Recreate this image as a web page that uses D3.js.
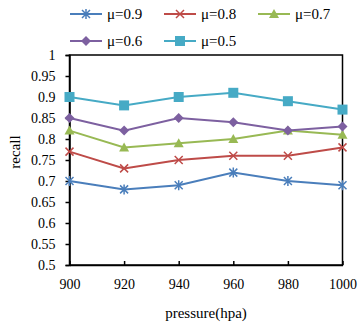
<!DOCTYPE html>
<html><head><meta charset="utf-8">
<script src="https://cdn.jsdelivr.net/npm/d3@7"></script>
<style>body{margin:0;background:#fff}svg{display:block}</style>
</head><body><div id="chart"></div>
<script>
const pressures = [900, 920, 940, 960, 980, 1000];
const seriesNames = ["μ=0.9", "μ=0.8", "μ=0.7", "μ=0.6", "μ=0.5"];
const mu09 = [0.70, 0.68, 0.69, 0.72, 0.70, 0.69];
const mu08 = [0.77, 0.73, 0.75, 0.76, 0.76, 0.78];
const mu07 = [0.82, 0.78, 0.79, 0.80, 0.82, 0.81];
const mu06 = [0.85, 0.82, 0.85, 0.84, 0.82, 0.83];
const mu05 = [0.90, 0.88, 0.90, 0.91, 0.89, 0.87];
const yTicks = [0.5, 0.55, 0.6, 0.65, 0.7, 0.75, 0.8, 0.85, 0.9, 0.95, 1];
const colors = ["#4a7ebb", "#be4b48", "#98b954", "#7d60a0", "#46aac5"];
const markers = ["star", "x", "triangle", "diamond", "square"];
const allSeries = [mu09, mu08, mu07, mu06, mu05];

const FONT = "'Liberation Serif', 'Times New Roman', Times, serif";
const W = 359, H = 324;
const svg = d3.select("#chart").append("svg").attr("width", W).attr("height", H)
  .attr("font-family", FONT);
const x = d3.scaleLinear().domain([900, 1000]).range([69.5, 342.5]);
const y = d3.scaleLinear().domain([0.5, 1]).range([265, 55]);

function drawMarker(g, type, color) {
  if (type === "star") {
    g.append("path").attr("d", "M-4,-4L4,4M-4,4L4,-4M0,-5L0,5").attr("stroke", color).attr("stroke-width", 1.5).attr("fill", "none");
  } else if (type === "x") {
    g.append("path").attr("d", "M-4,-4L4,4M-4,4L4,-4").attr("stroke", color).attr("stroke-width", 1.5).attr("fill", "none");
  } else if (type === "triangle") {
    g.append("path").attr("d", "M0,-5L5,4L-5,4Z").attr("fill", color);
  } else if (type === "diamond") {
    g.append("path").attr("d", "M0,-5L5,0L0,5L-5,0Z").attr("fill", color);
  } else {
    g.append("rect").attr("x", -5).attr("y", -5).attr("width", 10).attr("height", 10).attr("fill", color);
  }
}

// plot frame
svg.append("rect").attr("x", x(900)).attr("y", y(1)).attr("width", x(1000) - x(900)).attr("height", y(0.5) - y(1))
  .attr("fill", "none").attr("stroke", "#000").attr("stroke-width", 1.5);

// y axis
const yAxis = svg.append("g").attr("transform", `translate(${x(900)},0)`)
  .call(d3.axisLeft(y).tickValues(yTicks).tickSize(4).tickFormat(d => String(d)));
yAxis.attr("font-family", FONT);
yAxis.select(".domain").attr("stroke-width", 1.5);
yAxis.selectAll(".tick line").attr("stroke-width", 1.5);
yAxis.selectAll("text").attr("font-size", 14).attr("x", -14).attr("font-family", FONT).attr("fill", "#000");

// x axis (ticks inward)
const xAxis = svg.append("g").attr("transform", `translate(0,${y(0.5)})`)
  .call(d3.axisBottom(x).tickValues(pressures).tickSizeInner(-4).tickSizeOuter(0).tickFormat(d3.format("d")));
xAxis.attr("font-family", FONT);
xAxis.select(".domain").attr("stroke-width", 1.5);
xAxis.selectAll(".tick line").attr("stroke-width", 1.5);
xAxis.selectAll("text").attr("font-size", 14).attr("y", 14).attr("font-family", FONT).attr("fill", "#000");

// axis titles
svg.append("text").attr("x", x(950)).attr("y", 318).attr("text-anchor", "middle").attr("font-size", 15).text("pressure(hpa)");
svg.append("text").attr("transform", `translate(20,152) rotate(-90)`).attr("text-anchor", "middle").attr("font-size", 15).text("recall");

// series
const line = d3.line().x((d, i) => x(pressures[i])).y(d => y(d));
allSeries.forEach((vals, si) => {
  svg.append("path").datum(vals).attr("d", line).attr("fill", "none").attr("stroke", colors[si]).attr("stroke-width", 2);
  vals.forEach((v, i) => {
    const g = svg.append("g").attr("transform", `translate(${x(pressures[i])},${y(v)})`);
    drawMarker(g, markers[si], colors[si]);
  });
});

// legend
const legendPos = [[70, 14], [164, 14], [258, 14], [70, 41], [164, 41]];
seriesNames.forEach((name, si) => {
  const [lx, ly] = legendPos[si];
  svg.append("line").attr("x1", lx).attr("x2", lx + 32).attr("y1", ly).attr("y2", ly).attr("stroke", colors[si]).attr("stroke-width", 2);
  const g = svg.append("g").attr("transform", `translate(${lx + 16},${ly})`);
  drawMarker(g, markers[si], colors[si]);
  svg.append("text").attr("x", lx + 37).attr("y", ly + 5).attr("font-size", 15).text(name);
});
</script></body></html>
